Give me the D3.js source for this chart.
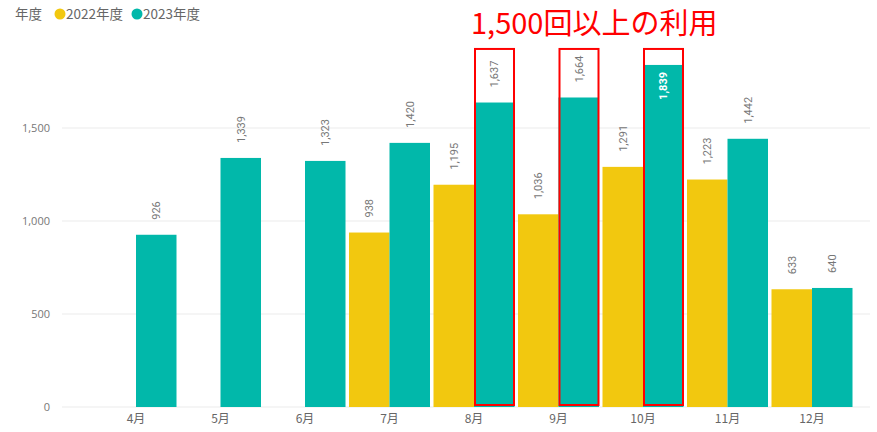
<!DOCTYPE html>
<html>
<head>
<meta charset="utf-8">
<script src="https://cdn.jsdelivr.net/npm/d3@7"></script>
<style>
  body { margin: 0; background: #fff; }
  svg { display: block; }
</style>
</head>
<body>
<svg id="chart"></svg>
<script>
// data
var months = ["4月", "5月", "6月", "7月", "8月", "9月", "10月", "11月", "12月"];
var series = ["2022年度", "2023年度"];
var v2022 = [null, null, null, 938, 1195, 1036, 1291, 1223, 633];
var v2023 = [926, 1339, 1323, 1420, 1637, 1664, 1839, 1442, 640];
var yTicks = [0, 500, 1000, 1500];
var highlight = ["8月", "9月", "10月"];
var boxTopValue = 1925;
var title = "1,500回以上の利用";

var colors = { "2022年度": "#F2C80F", "2023年度": "#01B8AA" };

var dimensions = {
  width: 877,
  height: 432,
  margin: { top: 40, bottom: 25, left: 62, right: 7 }
}

var svg = d3.select("#chart")
  .attr("width", dimensions.width)
  .attr("height", dimensions.height)

var cjk = "'Noto Sans CJK JP', 'Noto Sans', sans-serif";

// scales
var y = d3.scaleLinear()
  .domain([0, 1500])
  .range([407, 128]);

var x = d3.scaleBand()
  .domain(months)
  .range([93.75, 854.25])
  .paddingInner(0.0414)
  .paddingOuter(0.0207)

var xSub = d3.scaleBand()
  .domain(series)
  .range([0, x.bandwidth()])

// gridlines
svg.append("g")
  .selectAll("line")
  .data(yTicks)
  .enter().append("line")
    .attr("x1", dimensions.margin.left)
    .attr("x2", dimensions.width - dimensions.margin.right)
    .attr("y1", function(d) { return y(d); })
    .attr("y2", function(d) { return y(d); })
    .attr("stroke", "#ebebeb")
    .attr("stroke-width", 1)

// y axis labels
var yAxis = svg.append("g")
  .attr("transform", "translate(50,0)")
  .call(d3.axisLeft(y).tickValues(yTicks).tickFormat(d3.format(",")).tickSize(0).tickPadding(0))
yAxis.select(".domain").remove();
yAxis.selectAll("text")
  .attr("fill", "#777")
  .style("font-family", "'Open Sans', 'Noto Sans', sans-serif")
  .style("font-size", "11px")

// x axis labels
var xAxis = svg.append("g")
  .attr("transform", "translate(0,412)")
  .call(d3.axisBottom(x).tickSize(0).tickPadding(0))
xAxis.select(".domain").remove();
xAxis.selectAll("text")
  .attr("fill", "#666")
  .attr("dy", "0.95em")
  .style("font-family", cjk)
  .style("font-size", "12px")

// rows for bars
var rows = [];
months.forEach(function(m, i) {
  rows.push({ month: m, key: "2022年度", value: v2022[i] });
  rows.push({ month: m, key: "2023年度", value: v2023[i] });
});
rows = rows.filter(function(d) { return d.value != null; });

var bars = svg.append("g")
  .selectAll("rect")
  .data(rows)
  .enter().append("rect")
    .attr("x", function(d) { return x(d.month) + xSub(d.key); })
    .attr("y", function(d) { return y(d.value); })
    .attr("width", xSub.bandwidth())
    .attr("height", function(d) { return y(0) - y(d.value); })
    .attr("fill", function(d) { return colors[d.key]; })

// value labels, rotated
var fmt = d3.format(",");
var labels = svg.append("g")
  .selectAll("text")
  .data(rows)
  .enter().append("text")
    .text(function(d) { return fmt(d.value); })
    .style("font-family", "Roboto, 'DejaVu Sans', sans-serif")
    .style("font-size", "11px")
    .attr("fill", "#777")

labels.each(function(d) {
  var len = this.getComputedTextLength();
  var cx = x(d.month) + xSub(d.key) + xSub.bandwidth() / 2;
  var top = y(d.value);
  var el = d3.select(this);
  if (top - 15 - len < 42) {
    // no room above the bar, put it inside
    el.attr("text-anchor", "end")
      .attr("fill", "#fff")
      .style("font-weight", "bold")
      .attr("transform", "translate(" + (cx + 4) + "," + (top + 7) + ") rotate(-90)")
  } else {
    el.attr("text-anchor", "start")
      .attr("transform", "translate(" + (cx + 4) + "," + (top - 15) + ") rotate(-90)")
  }
});

// red boxes
svg.append("g")
  .selectAll("rect")
  .data(highlight)
  .enter().append("rect")
    .attr("x", function(d) { return x(d) + xSub("2023年度") + 1; })
    .attr("y", y(boxTopValue))
    .attr("width", xSub.bandwidth() - 1.5)
    .attr("height", y(0) - 2 - y(boxTopValue))
    .attr("fill", "none")
    .attr("stroke", "#FF0000")
    .attr("stroke-width", 2)

// annotation title
svg.append("text")
  .text(title)
  .attr("x", 471)
  .attr("y", 34)
  .attr("fill", "#FF0000")
  .style("font-family", cjk)
  .style("font-size", "29px")

// legend
var legend = svg.append("g")
legend.append("text")
  .text("年度")
  .attr("x", 15)
  .attr("y", 19)
  .attr("fill", "#666")
  .style("font-family", cjk)
  .style("font-size", "13.5px")

var lx = [60, 137];
series.forEach(function(s, i) {
  legend.append("circle")
    .attr("cx", lx[i])
    .attr("cy", 14)
    .attr("r", 5.5)
    .attr("fill", colors[s])
  legend.append("text")
    .text(s)
    .attr("x", lx[i] + 6)
    .attr("y", 19)
    .attr("fill", "#666")
    .style("font-family", cjk)
    .style("font-size", "13.5px")
});
</script>
</body>
</html>
